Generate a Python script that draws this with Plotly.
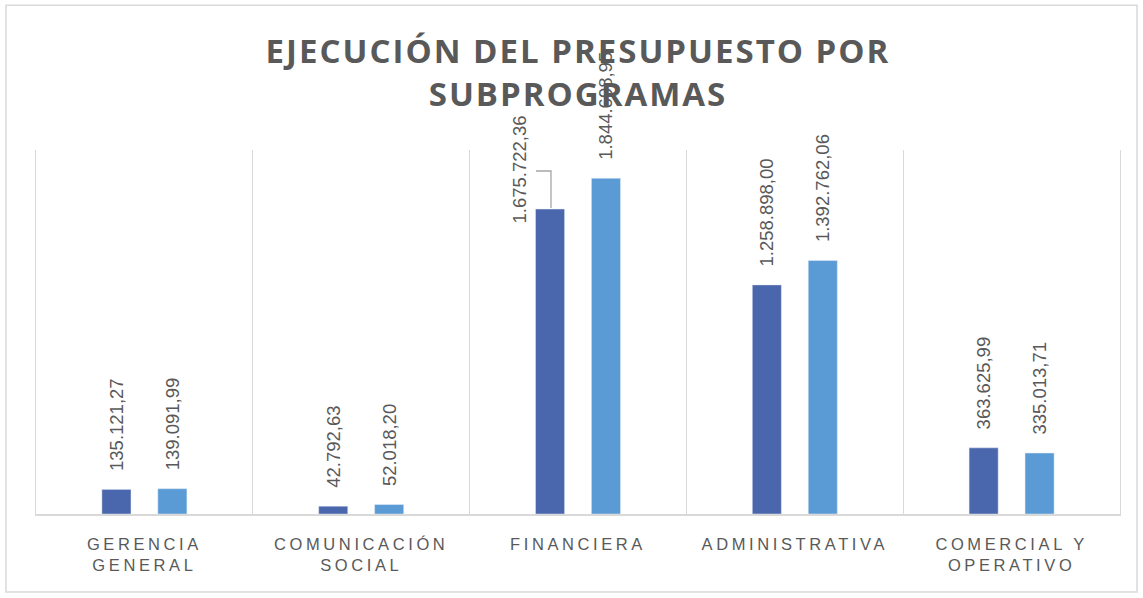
import plotly.graph_objects as go

categories = ["GERENCIA<br>GENERAL", "COMUNICACIÓN<br>SOCIAL", "FINANCIERA", "ADMINISTRATIVA", "COMERCIAL Y<br>OPERATIVO"]
serie_1 = [135121.27, 42792.63, 1675722.36, 1258898.00, 363625.99]
serie_2 = [139091.99, 52018.20, 1844698.95, 1392762.06, 335013.71]
series_names = ["Presupuesto", "Ejecución"]
y_max = 2000000


def fmt(v):
    s = f"{v:,.2f}"
    return s.replace(",", "X").replace(".", ",").replace("X", ".")


PAD = "\u00a0\u00a0\u00a0"  # extra gap between bar end and label
labels_1 = [PAD + fmt(v) for v in serie_1]
labels_2 = [PAD + fmt(v) for v in serie_2]
moved_idx = 2  # label displaced with leader line
moved_label = fmt(serie_1[moved_idx])
labels_1[moved_idx] = ""

GREY = "#595959"
FONT = "Liberation Sans"
LBL = 18.5

fig = go.Figure()
fig.add_trace(go.Bar(x=categories, y=serie_1, name=series_names[0], marker_color="#4A66AC",
                     text=labels_1, textposition="outside", textangle=-90, constraintext="none",
                     textfont=dict(family=FONT, size=LBL, color=GREY), cliponaxis=False))
fig.add_trace(go.Bar(x=categories, y=serie_2, name=series_names[1], marker_color="#5B9BD5",
                     text=labels_2, textposition="outside", textangle=-90, constraintext="none",
                     textfont=dict(family=FONT, size=LBL, color=GREY), cliponaxis=False))

fig.add_annotation(x=categories[moved_idx], y=serie_1[moved_idx], text=moved_label,
                   textangle=-90, showarrow=False, xanchor="center", yanchor="middle",
                   xshift=-58.5, yshift=39, font=dict(family=FONT, size=LBL, color=GREY))
fig.add_shape(type="path", xref="x", yref="y", xsizemode="pixel", ysizemode="pixel",
              xanchor=moved_idx, yanchor=serie_1[moved_idx],
              path="M -27,1 L -27,38 L -42,38", line=dict(color="#a6a6a6", width=1.3))

# chart border
fig.add_shape(type="rect", xref="paper", yref="paper", x0=-0.0277, x1=1.0157, y0=-0.214, y1=1.398,
              line=dict(color="#d9d9d9", width=1.5), fillcolor="rgba(0,0,0,0)", layer="below")

fig.update_layout(
    width=1143, height=598,
    margin=dict(l=36, r=23, t=150, b=84),
    paper_bgcolor="white", plot_bgcolor="white",
    showlegend=False,
    barmode="group", bargap=0.484, bargroupgap=0.48,
    separators=",.",
    title=dict(text="EJECUCIÓN DEL PRESUPUESTO POR<br>SUBPROGRAMAS", x=0.5, xref="paper",
               xanchor="center", y=1 - 63 / 598, yanchor="top",
               font=dict(family="Open Sans", size=33, color=GREY, weight="bold")),
    xaxis=dict(tickson="boundaries", showgrid=True, gridcolor="#d9d9d9", gridwidth=1.3,
               showline=True, linecolor="#d9d9d9", linewidth=1.5, ticks="",
               ticklabelstandoff=14,
               tickfont=dict(family=FONT, size=16.5, color=GREY)),
    yaxis=dict(range=[0, y_max], showgrid=False, showticklabels=False, zeroline=False,
               showline=True, mirror=True, linecolor="#d9d9d9", linewidth=1.3),
)

post = """
document.body.style.margin='0';
document.body.style.overflow='hidden';
document.querySelectorAll('.xtick text').forEach(function(t){t.style.letterSpacing='3.6px';});
document.querySelectorAll('.gtitle').forEach(function(t){t.style.letterSpacing='2px';});
"""
fig.write_html("out.html", post_script=post, config={"displayModeBar": False})
